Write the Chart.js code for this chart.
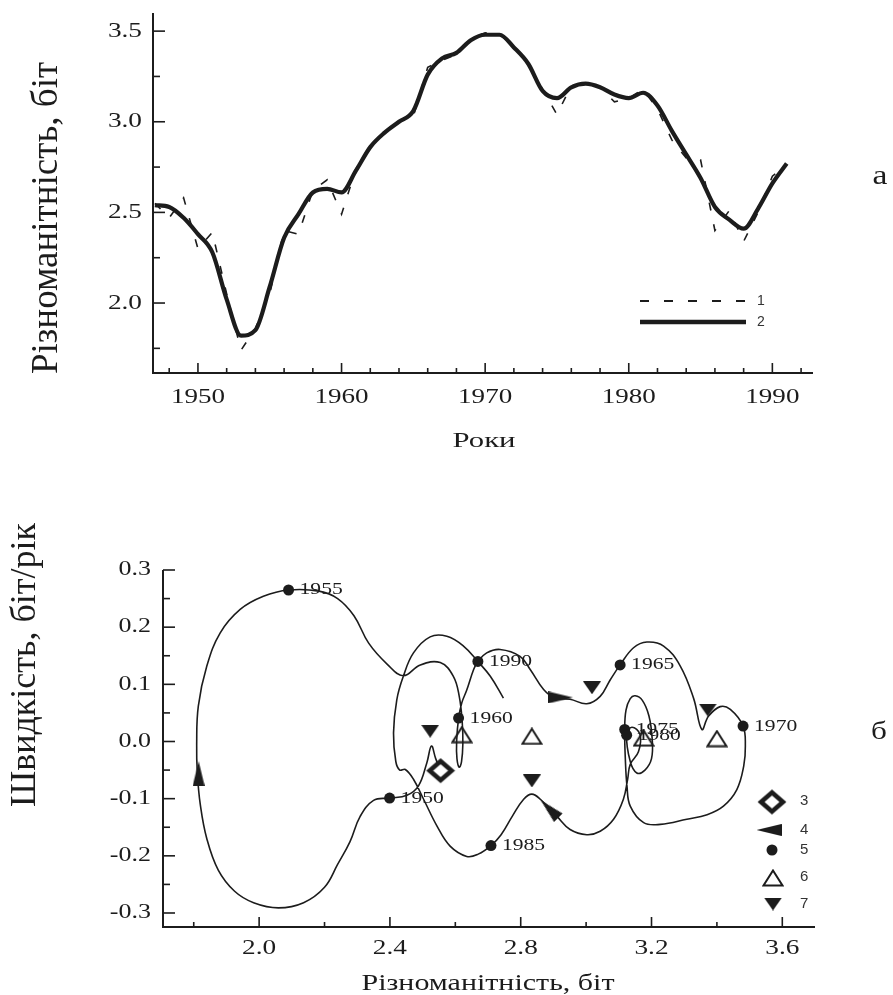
<!DOCTYPE html>
<html>
<head>
<meta charset="utf-8">
<script src="https://cdn.jsdelivr.net/npm/chart.js@4.4.1/dist/chart.umd.min.js"></script>
<style>
  html, body { margin: 0; padding: 0; background: #fff; }
  #wrap { position: relative; width: 893px; height: 995px; overflow: hidden; }
  #top { position: absolute; left: 0; top: 0; }
  #bottom { position: absolute; left: 0; top: 480px; }
</style>
</head>
<body>
<div id="wrap">
  <canvas id="top" width="893" height="470"></canvas>
  <canvas id="bottom" width="893" height="515"></canvas>
</div>
<script>
// ---------- (а) diversity by year ----------
const years = [1947, 1948, 1949, 1950, 1951, 1952, 1953, 1954, 1955, 1956, 1957, 1958, 1959, 1960,
  1961, 1962, 1963, 1964, 1965, 1966, 1967, 1968, 1969, 1970, 1971, 1972, 1973, 1974, 1975,
  1976, 1977, 1978, 1979, 1980, 1981, 1982, 1983, 1984, 1985, 1986, 1987, 1988, 1989, 1990, 1991];
// 1 - annual values (dashed)
const rawDiversity = [2.55, 2.47, 2.58, 2.30, 2.39, 2.05, 1.74, 1.86, 2.05, 2.40, 2.38, 2.62, 2.68, 2.49,
  2.74, 2.87, 2.94, 3.00, 3.03, 3.30, 3.34, 3.37, 3.46, 3.49, 3.48, 3.42, 3.32, 3.18, 3.04,
  3.20, 3.21, 3.19, 3.11, 3.13, 3.18, 3.07, 2.90, 2.80, 2.79, 2.40, 2.51, 2.34, 2.50, 2.70, 2.76];
// 2 - smoothed (solid)
const smoothDiversity = [2.54, 2.53, 2.47, 2.38, 2.28, 2.02, 1.82, 1.85, 2.09, 2.36, 2.49, 2.61, 2.63, 2.61,
  2.73, 2.86, 2.94, 3.00, 3.06, 3.26, 3.35, 3.38, 3.45, 3.48, 3.48, 3.41, 3.32, 3.17, 3.13,
  3.19, 3.21, 3.19, 3.15, 3.13, 3.16, 3.09, 2.95, 2.82, 2.69, 2.53, 2.46, 2.41, 2.52, 2.66, 2.77];
const topXLabels = [1950, 1960, 1970, 1980, 1990];
const topYLabels = ['2.0', '2.5', '3.0', '3.5'];

// ---------- (б) phase trajectory: diversity vs speed ----------
const pathDiversity = [2.555, 2.540, 2.527, 2.513, 2.487, 2.452, 2.399, 2.350, 2.309, 2.278, 2.240, 2.200,
  2.136, 2.059, 1.983, 1.925, 1.875, 1.840, 1.820, 1.811, 1.809, 1.814, 1.840, 1.881, 1.942, 2.013, 2.090,
  2.183, 2.240, 2.290, 2.335, 2.392, 2.441, 2.493, 2.554, 2.594, 2.612, 2.621, 2.623, 2.619, 2.612, 2.605,
  2.604, 2.610, 2.620, 2.635, 2.656, 2.669, 2.696, 2.737, 2.798, 2.829, 2.870, 2.905, 2.951, 3.002,
  3.043, 3.074, 3.104, 3.145, 3.186, 3.237, 3.288, 3.329, 3.354, 3.374, 3.410, 3.441, 3.480, 3.487,
  3.482, 3.461, 3.420, 3.370, 3.308, 3.227, 3.176, 3.135, 3.125, 3.120, 3.118, 3.122, 3.135, 3.150,
  3.172, 3.192, 3.202, 3.200, 3.180, 3.155, 3.135, 3.124, 3.140, 3.165, 3.160, 3.135, 3.127, 3.114,
  3.084, 3.043, 3.002, 2.951, 2.911, 2.860, 2.834, 2.809, 2.775, 2.740, 2.709, 2.670, 2.635, 2.584,
  2.544, 2.503, 2.472, 2.447, 2.430, 2.418, 2.411, 2.421, 2.441, 2.472, 2.523, 2.574, 2.625, 2.669,
  2.707, 2.747];
const pathSpeed = [-0.051, -0.030, -0.008, -0.037, -0.078, -0.094, -0.099, -0.103, -0.131, -0.175, -0.215, -0.255,
  -0.282, -0.291, -0.282, -0.262, -0.225, -0.170, -0.110, -0.055, -0.005, 0.062, 0.132, 0.190, 0.231, 0.254, 0.265,
  0.263, 0.250, 0.220, 0.172, 0.135, 0.115, 0.134, 0.138, 0.114, 0.079, 0.035, -0.005, -0.035, -0.045, -0.030,
  0.000, 0.041, 0.068, 0.090, 0.126, 0.140, 0.155, 0.161, 0.149, 0.126, 0.091, 0.076, 0.074, 0.066,
  0.079, 0.108, 0.134, 0.164, 0.174, 0.167, 0.132, 0.075, 0.021, 0.044, 0.061, 0.056, 0.027, -0.008,
  -0.043, -0.084, -0.113, -0.128, -0.136, -0.145, -0.142, -0.113, -0.078, -0.031, 0.021, 0.055, 0.075, 0.080,
  0.072, 0.045, 0.005, -0.030, -0.050, -0.055, -0.035, 0.011, 0.025, 0.012, -0.018, -0.040, -0.066, -0.101,
  -0.136, -0.157, -0.163, -0.154, -0.131, -0.101, -0.092, -0.101, -0.130, -0.163, -0.182, -0.197, -0.201, -0.183,
  -0.148, -0.101, -0.066, -0.049, -0.050, -0.035, 0.015, 0.073, 0.114, 0.155, 0.183, 0.184, 0.167, 0.140,
  0.114, 0.076];
// 3 - start
const startDiversity = [2.555];
const startSpeed = [-0.051];
// 4 - direction arrows
const arrowDiversity = [1.815, 2.922, 2.888];
const arrowSpeed = [-0.056, 0.077, -0.118];
const arrowAngle = [-90, 0, 225];
// 5 - years
const yearLabels = ['1950', '1955', '1960', '1965', '1970', '1975', '1980', '1985', '1990'];
const yearDiversity = [2.399, 2.090, 2.610, 3.104, 3.480, 3.118, 3.124, 2.709, 2.669];
const yearSpeed = [-0.099, 0.265, 0.041, 0.134, 0.027, 0.021, 0.011, -0.182, 0.140];
// 6 - open triangles
const openDiversity = [2.620, 2.834, 3.176, 3.400];
const openSpeed = [0.012, 0.009, 0.006, 0.005];
// 7 - filled down triangles
const downDiversity = [2.523, 3.018, 2.834, 3.372];
const downSpeed = [0.018, 0.094, -0.069, 0.055];
const botXLabels = ['2.0', '2.4', '2.8', '3.2', '3.6'];
const botYLabels = ['-0.3', '-0.2', '-0.1', '0.0', '0.1', '0.2', '0.3'];

const INK = '#1c1c1c';
const SERIF = '"Liberation Serif", "Times New Roman", serif';
const SANS = '"Liberation Sans", Arial, sans-serif';

function pts(xs, ys) { return xs.map((x, i) => ({ x: x, y: ys[i] })); }

function text(ctx, s, x, y, o) {
  ctx.save();
  ctx.translate(x, y);
  if (o.rot) ctx.rotate(o.rot);
  ctx.font = o.font;
  let sx = o.sx || 1;
  if (o.w) sx = o.w / ctx.measureText(s).width;
  ctx.scale(sx, 1);
  ctx.fillStyle = o.color || INK;
  ctx.textAlign = o.align || 'center';
  ctx.textBaseline = o.base || 'middle';
  ctx.fillText(s, 0, 0);
  ctx.restore();
}

function icon(w, h, draw) {
  const c = document.createElement('canvas');
  c.width = w; c.height = h;
  const g = c.getContext('2d');
  g.fillStyle = INK; g.strokeStyle = INK;
  draw(g, w, h);
  return c;
}
const diamondIcon = icon(30, 27, (g, w, h) => {
  g.lineWidth = 4.5;
  g.beginPath();
  g.moveTo(w / 2, 4); g.lineTo(w - 4, h / 2); g.lineTo(w / 2, h - 4); g.lineTo(4, h / 2);
  g.closePath();
  g.fillStyle = '#fff'; g.fill(); g.stroke();
});
const wedgeIcon = icon(25, 12, (g, w, h) => {
  g.beginPath(); g.moveTo(0, 0); g.lineTo(w, h / 2); g.lineTo(0, h); g.closePath(); g.fill();
});
const openTriIcon = icon(22, 18, (g, w, h) => {
  g.lineWidth = 2;
  g.beginPath(); g.moveTo(w / 2, 1.5); g.lineTo(w - 1.5, h - 1.5); g.lineTo(1.5, h - 1.5); g.closePath(); g.stroke();
});
const downTriIcon = icon(18, 13, (g, w, h) => {
  g.beginPath(); g.moveTo(0, 0); g.lineTo(w, 0); g.lineTo(w / 2, h); g.closePath(); g.fill();
});

function drawFrame(chart, xTicks, yTicks) {
  const ctx = chart.ctx, a = chart.chartArea, xs = chart.scales.x, ys = chart.scales.y;
  ctx.save();
  ctx.strokeStyle = INK;
  ctx.lineWidth = 2;
  ctx.beginPath();
  ctx.moveTo(a.left, a.top); ctx.lineTo(a.left, a.bottom); ctx.lineTo(a.right, a.bottom);
  ctx.stroke();
  ctx.lineWidth = 1.6;
  xTicks.forEach(t => {
    const px = xs.getPixelForValue(t.v);
    ctx.beginPath(); ctx.moveTo(px, a.bottom); ctx.lineTo(px, a.bottom - t.len); ctx.stroke();
  });
  yTicks.forEach(t => {
    const py = ys.getPixelForValue(t.v);
    ctx.beginPath(); ctx.moveTo(a.left, py); ctx.lineTo(a.left + t.len, py); ctx.stroke();
  });
  ctx.restore();
}

// ---------- top chart ----------
const topDecor = {
  id: 'topDecor',
  afterDraw(chart) {
    const ctx = chart.ctx, xs = chart.scales.x, ys = chart.scales.y;
    const xt = [], yt = [];
    for (let yr = 1948; yr <= 1992; yr += 2) xt.push({ v: yr, len: yr % 10 === 0 ? 10 : 5 });
    for (let v = 1.75; v <= 3.51; v += 0.25) yt.push({ v: v, len: Math.abs(v * 2 - Math.round(v * 2)) < 0.01 ? 12 : 7 });
    drawFrame(chart, xt, yt);
    topXLabels.forEach(yr => text(ctx, String(yr), xs.getPixelForValue(yr), 397, { font: '22px ' + SERIF, sx: 1.23 }));
    topYLabels.forEach(l => text(ctx, l, 142, ys.getPixelForValue(parseFloat(l)), { font: '21px ' + SERIF, sx: 1.3, align: 'right' }));
    text(ctx, 'Роки', 484, 441, { font: '22px ' + SERIF, w: 63 });
    text(ctx, 'Різноманітність, біт', 57, 218, { font: '37px ' + SERIF, rot: -Math.PI / 2, base: 'alphabetic' });
    text(ctx, 'а', 880, 177, { font: '28px ' + SERIF, sx: 1.2 });
    // legend
    ctx.save();
    ctx.strokeStyle = INK;
    ctx.lineWidth = 2;
    ctx.setLineDash([9, 15]);
    ctx.beginPath(); ctx.moveTo(640, 301); ctx.lineTo(746, 301); ctx.stroke();
    ctx.setLineDash([]);
    ctx.lineWidth = 4.5;
    ctx.beginPath(); ctx.moveTo(640, 322); ctx.lineTo(746, 322); ctx.stroke();
    ctx.restore();
    text(ctx, '1', 757, 301, { font: '14px ' + SANS, align: 'left', color: '#333' });
    text(ctx, '2', 757, 322, { font: '14px ' + SANS, align: 'left', color: '#333' });
  }
};

new Chart(document.getElementById('top'), {
  type: 'scatter',
  data: {
    datasets: [
      { label: '2', data: pts(years, smoothDiversity), showLine: true, borderColor: INK, borderWidth: 4.2,
        pointRadius: 0, cubicInterpolationMode: 'monotone' },
      { label: '1', data: pts(years, rawDiversity), showLine: true, borderColor: INK, borderWidth: 1.6,
        borderDash: [8, 14], pointRadius: 0, tension: 0 }
    ]
  },
  options: {
    responsive: false, animation: false, devicePixelRatio: 1, events: [],
    layout: { padding: { top: 13, right: 80, bottom: 0, left: 0 } },
    plugins: { legend: { display: false }, tooltip: { enabled: false } },
    scales: {
      x: { type: 'linear', min: 1946.87, max: 1992.83, ticks: { display: false }, grid: { display: false },
        border: { display: false }, afterFit(s) { s.height = 97; } },
      y: { type: 'linear', min: 1.614, max: 3.6, ticks: { display: false }, grid: { display: false },
        border: { display: false }, afterFit(s) { s.width = 153; } }
    }
  },
  plugins: [topDecor]
});

// ---------- bottom chart ----------
const botDecor = {
  id: 'botDecor',
  afterDraw(chart) {
    const ctx = chart.ctx, xs = chart.scales.x, ys = chart.scales.y;
    const xt = [], yt = [];
    for (let i = 0; i <= 9; i++) xt.push({ v: 1.8 + i * 0.2, len: i % 2 === 1 ? 10 : 5 });
    for (let i = -6; i <= 6; i++) yt.push({ v: i * 0.05, len: i % 2 === 0 ? 12 : 7 });
    drawFrame(chart, xt, yt);
    botXLabels.forEach(l => text(ctx, l, xs.getPixelForValue(parseFloat(l)), 468, { font: '21px ' + SERIF, sx: 1.3 }));
    botYLabels.forEach(l => text(ctx, l, 151, ys.getPixelForValue(parseFloat(l)), { font: '20px ' + SERIF, sx: 1.3, align: 'right' }));
    text(ctx, 'Різноманітність, біт', 488, 504, { font: '23px ' + SERIF, w: 253 });
    text(ctx, 'Швидкість, біт/рік', 35, 185, { font: '36px ' + SERIF, rot: -Math.PI / 2, base: 'alphabetic' });
    text(ctx, 'б', 879, 252, { font: '26px ' + SERIF, sx: 1.2 });
    // legend
    ctx.save();
    ctx.drawImage(diamondIcon, 772 - 15, 322 - 13.5);
    ctx.translate(769, 350); ctx.rotate(Math.PI); ctx.drawImage(wedgeIcon, -12.5, -6);
    ctx.restore();
    ctx.save();
    ctx.fillStyle = INK;
    ctx.beginPath(); ctx.arc(772, 370, 5.5, 0, Math.PI * 2); ctx.fill();
    ctx.drawImage(openTriIcon, 773 - 11, 398 - 9);
    ctx.drawImage(downTriIcon, 773 - 9, 424 - 6.5);
    ctx.restore();
    ['3', '4', '5', '6', '7'].forEach((s, i) => text(ctx, s, 800, [321, 350, 370, 397, 424][i], { font: '15px ' + SANS, align: 'left', color: '#333' }));
  },
  afterDatasetsDraw(chart) {
    const meta = chart.getDatasetMeta(2);
    meta.data.forEach((p, i) => text(chart.ctx, yearLabels[i], p.x + 11, p.y, { font: '17px ' + SERIF, sx: 1.27, align: 'left' }));
  }
};

new Chart(document.getElementById('bottom'), {
  type: 'scatter',
  data: {
    datasets: [
      { label: '3', data: pts(startDiversity, startSpeed), pointStyle: diamondIcon, pointRadius: 6 },
      { label: '4', data: pts(arrowDiversity, arrowSpeed), pointStyle: wedgeIcon, pointRadius: 6, pointRotation: arrowAngle },
      { label: '5', data: pts(yearDiversity, yearSpeed), pointStyle: 'circle', pointRadius: 5.5,
        backgroundColor: INK, borderColor: INK, borderWidth: 0 },
      { label: '6', data: pts(openDiversity, openSpeed), pointStyle: openTriIcon, pointRadius: 6 },
      { label: '7', data: pts(downDiversity, downSpeed), pointStyle: downTriIcon, pointRadius: 6 },
      { label: 'path', data: pts(pathDiversity, pathSpeed), showLine: true, borderColor: INK, borderWidth: 1.6,
        pointRadius: 0, tension: 0.4 }
    ]
  },
  options: {
    responsive: false, animation: false, devicePixelRatio: 1, events: [],
    layout: { padding: { top: 90, right: 78, bottom: 0, left: 0 } },
    plugins: { legend: { display: false }, tooltip: { enabled: false } },
    scales: {
      x: { type: 'linear', min: 1.706, max: 3.70, ticks: { display: false }, grid: { display: false },
        border: { display: false }, afterFit(s) { s.height = 68; } },
      y: { type: 'linear', min: -0.3245, max: 0.3, ticks: { display: false }, grid: { display: false },
        border: { display: false }, afterFit(s) { s.width = 163; } }
    }
  },
  plugins: [botDecor]
});
</script>
</body>
</html>
